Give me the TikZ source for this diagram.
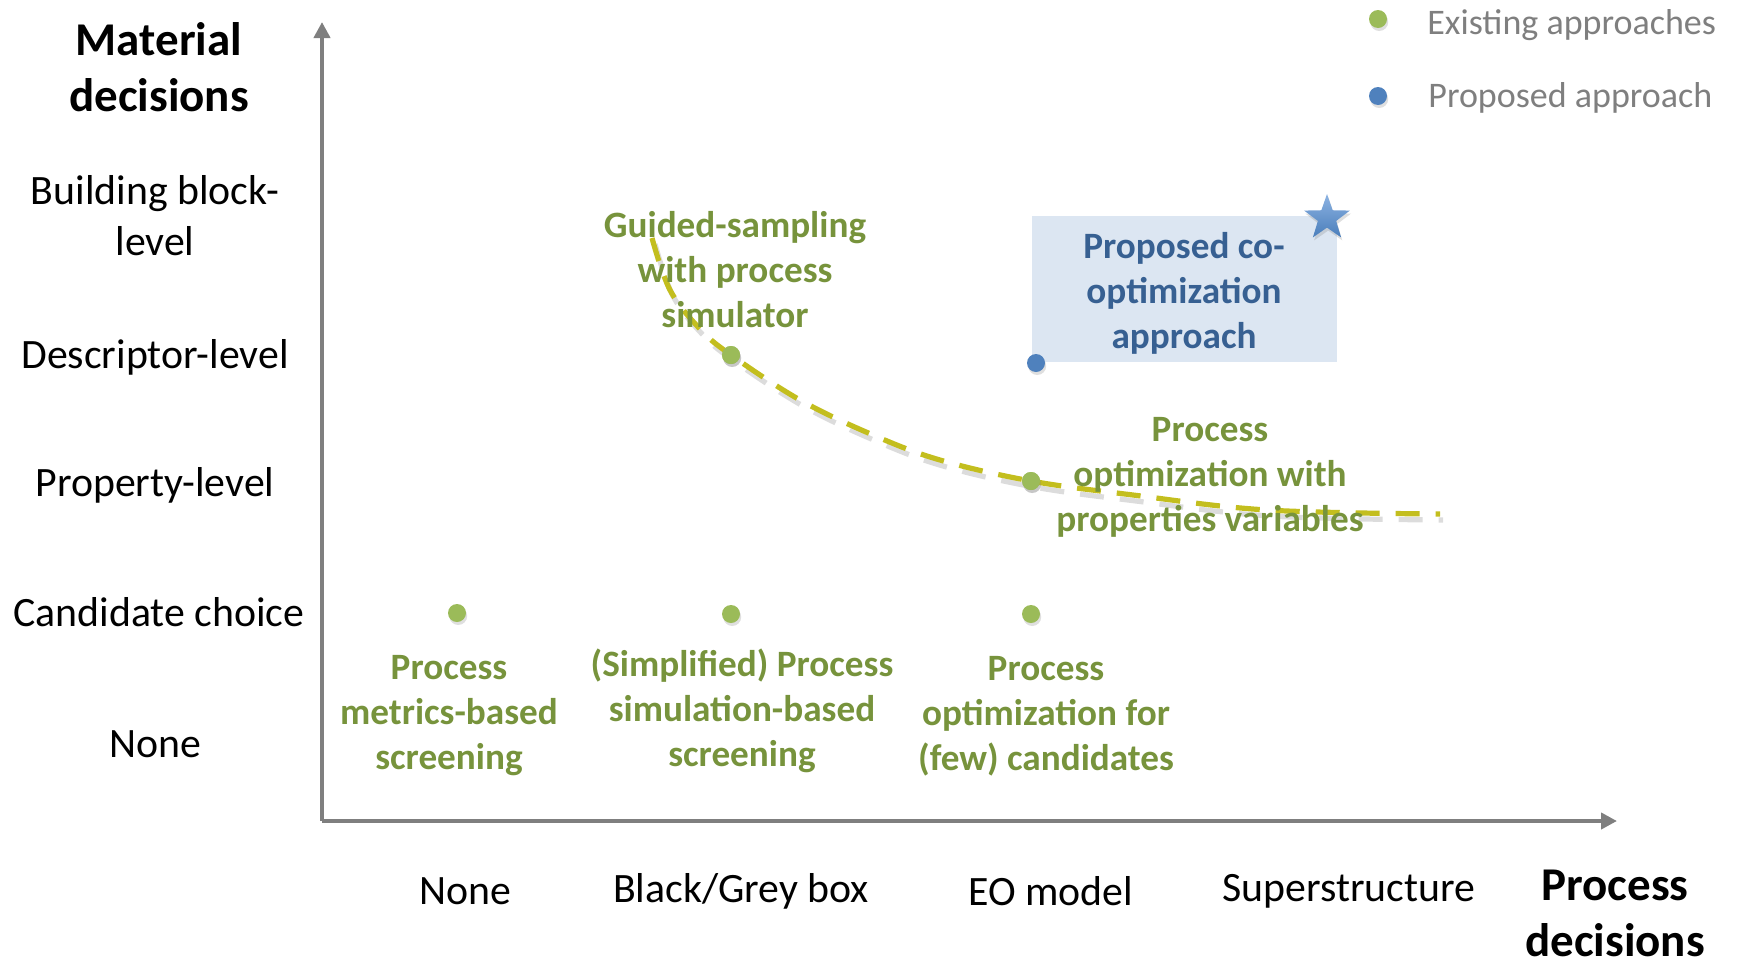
\documentclass[tikz,border=0pt]{standalone}
\usepackage{fontspec}
\setmainfont{Carlito}
\usetikzlibrary{arrows.meta, positioning, shapes.geometric, shadows}
\definecolor{AxisGray}{HTML}{7F7F7F}
\definecolor{OliveTxt}{HTML}{77933C}
\definecolor{OliveDot}{HTML}{9BBB59}
\definecolor{DotBlue}{HTML}{4F81BD}
\definecolor{BoxBlue}{HTML}{DCE6F2}
\definecolor{TxtBlue}{HTML}{376092}
\definecolor{FrontLine}{HTML}{C3BE1E}
\definecolor{StarTop}{HTML}{8DB3E2}
\definecolor{StarBot}{HTML}{4A7EBB}

\tikzset{
  axis/.style={line width=2pt, AxisGray, -{Triangle[length=8pt,width=8pt]}},
  axislbl/.style={align=center, inner sep=0pt, font=\fontsize{20.9}{25.5}\selectfont},
  axistitle/.style={align=center, inner sep=0pt, font=\fontsize{23.5}{28}\selectfont\bfseries},
  method/.style={align=center, inner sep=0pt, text=OliveTxt,
    font=\fontsize{18.6}{22.5}\selectfont\bfseries},
  softshadow/.style={drop shadow={shadow xshift=0.6pt, shadow yshift=-1.5pt, opacity=0.25}},
  exdot/.style={circle, fill=OliveDot, minimum size=9pt, inner sep=0pt, softshadow},
  propdot/.style={circle, fill=DotBlue, minimum size=9pt, inner sep=0pt, softshadow},
  legendtxt/.style={anchor=west, inner sep=0pt, text=AxisGray, font=\fontsize{18}{22}\selectfont},
  front/.style={line width=2.6pt, FrontLine, dash pattern=on 12pt off 8pt},
  frontshadow/.style={line width=2.6pt, gray!60, opacity=0.45, dash pattern=on 12pt off 8pt}
}

\begin{document}
\begin{tikzpicture}[x=0.5pt, y=-0.5pt]
  \useasboundingbox (0,0) rectangle (1740,964);

  % axes
  \coordinate (origin) at (322,821);
  \coordinate (ytip) at (322,22);
  \coordinate (xtip) at (1617,821);
  \draw[axis] (origin) -- (ytip);
  \draw[axis] (origin) -- (xtip);

  % material decision levels
  \node[axistitle] (mat) at (159,67) {Material\\decisions};
  \node[axislbl] (bbl) at (155,216) {Building block-\\level};
  \node[axislbl] (dsc) at (155,357) {Descriptor-level};
  \node[axislbl] (prp) at (155,485) {Property-level};
  \node[axislbl] (cnd) at (159,612) {Candidate choice};
  \node[axislbl] (nonem) at (155,744) {None};

  % process decision levels
  \node[axislbl] (nonep) at (465,891) {None};
  \node[axislbl] (bgb) at (741,891) {Black/Grey box};
  \node[axislbl] (eom) at (1051,891) {EO model};
  \node[axislbl] (sup) at (1349,891) {Superstructure};
  \node[axistitle] (proc) at (1615,913) {Process\\decisions};

  % proposed approach box and star
  \node[fill=BoxBlue, minimum width=152.5pt, minimum height=73pt, inner sep=0pt]
    (cobox) at (1184,289) {};
  \node[method, text=TxtBlue] (cotxt) at (1184,293) {Proposed co-\\optimization\\approach};
  \node[star, star points=5, star point ratio=2.5, minimum size=24pt, inner sep=0pt,
    top color=StarTop, bottom color=StarBot, softshadow] (best) at (1327,218) {};

  % dots
  \node[exdot] (dnone) at (457,613) {};
  \node[exdot] (dbgb) at (731,614) {};
  \node[exdot] (deo) at (1031,614) {};
  \node[exdot] (dgs) at (731,355) {};
  \node[exdot] (dpo) at (1031,481) {};
  \node[propdot] (dprop) at (1036,363) {};

  % trade-off front
  \draw[frontshadow, shift={(3,6)}] plot[smooth, tension=0.6] coordinates
    {(652,238) (670,290) (700,329) (731,355) (800,400) (873,435) (940,460)
     (1031,481) (1133,495) (1267,510) (1440,514)};
  \draw[front] plot[smooth, tension=0.6] coordinates
    {(652,238) (670,290) (700,329) (dgs) (800,400) (873,435) (940,460)
     (dpo) (1133,495) (1267,510) (1440,514)};
  \node[exdot] at (dgs) {};
  \node[exdot] at (dpo) {};

  % approaches
  \node[method] (gsamp) at (735,270) {Guided-sampling\\with process\\simulator};
  \node[method] (popt) at (1210,477) {Process\\optimization with\\properties variables};
  \node[method] (pmet) at (449,716) {Process\\metrics-based\\screening};
  \node[method] (psim) at (742,711) {(Simplified) Process\\simulation-based\\screening};
  \node[method] (pcand) at (1046,716) {Process\\optimization for\\(few) candidates};

  % legend
  \node[exdot] (lgex) at (1378,19) {};
  \node[propdot] (lgpr) at (1378,96) {};
  \node[legendtxt] (lgextxt) at (1427,25) {Existing approaches};
  \node[legendtxt] (lgprtxt) at (1428,98) {Proposed approach};
\end{tikzpicture}
\end{document}
